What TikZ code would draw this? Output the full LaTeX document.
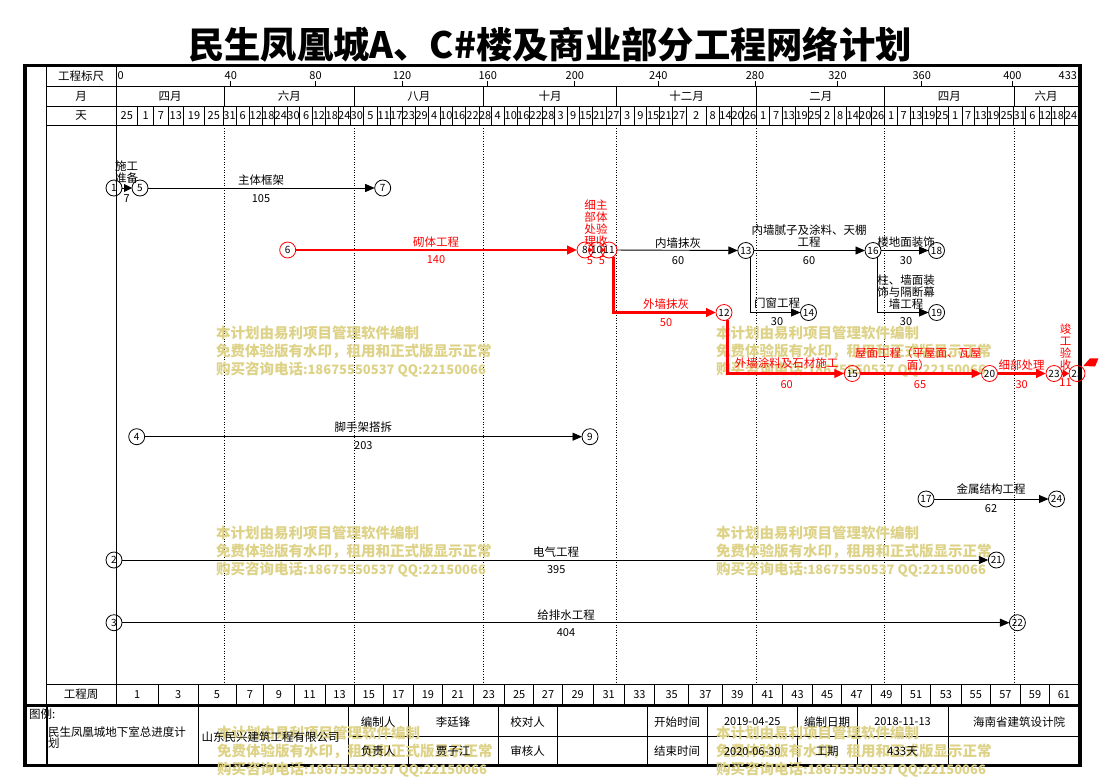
\documentclass[tikz,border=0pt]{standalone}
\usepackage{fontspec}
\setmainfont{Noto Sans CJK SC}
\usetikzlibrary{arrows.meta,calc}
\definecolor{wm}{RGB}{221,210,135}
\definecolor{crit}{RGB}{255,0,0}
\begin{document}
\begin{tikzpicture}[x=1pt,y=-1pt,
  every node/.style={inner sep=0pt,outer sep=0pt},
  lbl/.style={font=\fontsize{11.5}{12}\selectfont,align=center},
  num/.style={font=\fontsize{11}{12}\selectfont},
  tbl/.style={font=\fontsize{11.5}{12}\selectfont},
  gridline/.style={line width=0.8pt},
  monthline/.style={line width=0.8pt,dash pattern=on 1pt off 1.6pt},
  evt/.style={circle,draw,line width=0.8pt,minimum size=16pt,font=\fontsize{10}{10}\selectfont},
  cevt/.style={evt,draw=crit},
  act/.style={line width=0.9pt,-{Triangle[length=9.5pt,width=8pt]}},
  cact/.style={line width=2.6pt,draw=crit,-{Triangle[length=10pt,width=8.5pt]}},
  smallcact/.style={line width=1.4pt,draw=crit,-{Triangle[length=4pt,width=5pt]}},
  wmtext/.style={font=\fontsize{14.5}{18}\selectfont\bfseries,text=wm,anchor=west,align=left},
  redtxt/.style={text=crit},
]
\useasboundingbox (0,0) rectangle (1101,777);

% ---------- title ----------
\node[font=\fontsize{36.3}{37}\selectfont\bfseries] (title) at (550,45) {民生凤凰城A、C\#楼及商业部分工程网络计划};

% ---------- frame and header grid ----------
\draw[gridline] (46,86.7) -- (1078,86.7);
\draw[gridline] (46,106) -- (1078,106);
\draw[gridline] (46,125.3) -- (1078,125.3);
\draw[gridline] (46,684) -- (1078,684);
\draw[gridline] (46,67.3) -- (46,705);
\draw[gridline] (116,67.3) -- (116,705);

\node[lbl] (h1) at (81,76) {工程标尺};
\node[lbl] (h2) at (81,96.3) {月};
\node[lbl] (h3) at (81,115.7) {天};
\node[lbl] (h4) at (81,694) {工程周};

% scale row
\node[num,anchor=west] (s0) at (117.5,76) {0};
\node[num,anchor=east] (s433) at (1077,76) {433};
\foreach \x/\t in {230.8/40,315.6/80,402.1/120,487.7/160,574.8/200,658.3/240,755/280,837.5/320,921.7/360,1012.4/400}{
  \draw[gridline] (\x,81.2) -- (\x,86.7);
  \node[num] (s\t) at (\x,76) {\t};
}

% month row and dotted month lines
\foreach \x in {224.5,354.3,483.5,616.5,756.8,884.8,1014}{
  \draw[gridline] (\x,86.7) -- (\x,106);
  \draw[monthline] (\x,125.3) -- (\x,684);
}
\foreach \x/\t in {170/四月,289.4/六月,418.9/八月,550/十月,686.7/十二月,820.8/二月,949.4/四月,1046/六月}{
  \node[lbl] at (\x,96.3) {\t};
}

% day row
\foreach \a/\b/\t in {116/137.7/25,137.7/153.8/1,153.8/168.2/7,168.2/183.5/13,183.5/204.7/19,204.7/222.9/25,
  222.9/236.1/31,236.1/249.4/6,249.4/262.3/12,262.3/274.4/18,274.4/287.3/24,287.3/299.8/30,299.8/312.3/6,312.3/325.6/12,325.6/338.1/18,338.1/350.6/24,
  350.6/363.1/30,363.1/377.5/5,377.5/390/11,390/402.5/17,402.5/415/23,415/428.3/29,428.3/440/4,440/452.6/10,452.6/465.8/16,465.8/479.4/22,
  479.4/490.9/28,490.9/504.5/4,504.5/517/10,517/529.5/16,529.5/542/22,542/554.6/28,554.6/566.9/3,566.9/579.4/9,579.4/592/15,592/606.3/21,606.3/620.6/27,
  620.6/633.9/3,633.9/646.8/9,646.8/659.4/15,659.4/671.9/21,671.9/686.2/27,686.2/706/2,706/719.2/8,719.2/731.8/14,731.8/743.6/20,743.6/756.8/26,
  756.8/769.4/1,769.4/782.7/7,782.7/795.2/13,795.2/808.1/19,808.1/820.6/25,820.6/833.9/2,833.9/846.5/8,846.5/859/14,859/871.5/20,871.5/884.8/26,
  884.8/897.3/1,897.3/909.9/7,909.9/922.8/13,922.8/936/19,936/948.6/25,948.6/961.9/1,961.9/974.4/7,974.4/987/13,987/999.5/19,999.5/1013.8/25,
  1013.8/1025.7/31,1025.7/1038.9/6,1038.9/1051.5/12,1051.5/1064/18,1064/1078/24}{
  \draw[gridline] (\b,106) -- (\b,125.3);
  \node[num] at ({(\a+\b)/2},115.7) {\t};
}

% week row
\foreach \a/\b/\t in {116/158.5/1,158.5/197.9/3,197.9/236.1/5,236.1/263.7/7,263.7/294.1/9,294.1/324.9/11,324.9/354.2/13,354.2/383.5/15,
  383.5/413.2/17,413.2/442.6/19,442.6/473/21,473/504.5/23,504.5/533.8/25,533.8/562.2/27,562.2/593/29,593/624.2/31,624.2/654.7/33,
  654.7/688.7/35,688.7/722/37,722/752.5/39,752.5/782.7/41,782.7/812.4/43,812.4/841.8/45,841.8/871.5/47,871.5/901.3/49,901.3/930.7/51,
  930.7/961.1/53,961.1/990.5/55,990.5/1020.3/57,1020.3/1049.7/59,1049.7/1078/61}{
  \draw[gridline] (\b,684) -- (\b,705);
  \node[num] at ({(\a+\b)/2},694.5) {\t};
}

% ---------- bottom table ----------
\draw[gridline] (348,736) -- (1078,736);
\foreach \x in {198,348,408,498,557,647.5,707.7,797,857.6,948}{
  \draw[gridline] (\x,705.5) -- (\x,765.7);
}
\draw[line width=2.5pt] (47,705.5) -- (47,765.7);
\draw[line width=2.8pt] (25,705.4) -- (1080,705.4);
\draw[line width=3.5pt] (25,65.7) rectangle (1080,765.7);

% ---------- watermarks ----------
\foreach \wx/\wy in {216/352,716/352,216/551.5,716/551.5,217/751.5,716/751.5}{
  \node[wmtext] at (\wx,\wy) {本计划由易利项目管理软件编制\\免费体验版有水印，租用和正式版显示正常\\购买咨询电话{\fontsize{13}{18}\selectfont :18675550537 QQ:22150066}};
}

% table texts
\node[tbl,anchor=west] (t0) at (29,714) {图例:};
\node[tbl,anchor=west] (t1) at (48,731.7) {民生凤凰城地下室总进度计};
\node[tbl,anchor=west] (t2) at (48,742.9) {划};
\node[tbl,anchor=west] (t3) at (201.5,737.3) {山东民兴建筑工程有限公司};
\node[tbl] (t4) at (378,721.7) {编制人};
\node[tbl] (t5) at (378,751.5) {负责人};
\node[tbl] (t6) at (453,721.7) {李廷锋};
\node[tbl] (t7) at (453,751.5) {贾子江};
\node[tbl] (t8) at (527.5,721.7) {校对人};
\node[tbl] (t9) at (527.5,751.5) {审核人};
\node[tbl] (t10) at (677,721.7) {开始时间};
\node[tbl] (t11) at (677,751.5) {结束时间};
\node[num] (t12) at (752.3,721.7) {2019-04-25};
\node[num] (t13) at (752.3,751.5) {2020-06-30};
\node[tbl] (t14) at (827,721.7) {编制日期};
\node[tbl] (t15) at (827,751.5) {工期};
\node[num] (t16) at (902.5,721.7) {2018-11-13};
\node[tbl] (t17) at (902.5,751.5) {433天};
\node[tbl] (t18) at (1019,721.7) {海南省建筑设计院};

% ---------- network nodes ----------
\node[evt] (n1) at (114,188) {1};
\node[evt] (n5) at (140,188) {5};
\node[evt] (n7) at (382.7,188) {7};
\node[cevt] (n6) at (287.7,250) {6};
\node[cevt] (n8) at (585,250) {8};
\node[cevt] (n10) at (596.7,250) {10};
\node[cevt] (n11) at (609,250) {11};
\node[evt] (n13) at (745.8,250.5) {13};
\node[evt] (n16) at (873,250.5) {16};
\node[evt] (n18) at (936.5,250.5) {18};
\node[cevt] (n12) at (724,312.5) {12};
\node[evt] (n14) at (808.5,312.5) {14};
\node[evt] (n19) at (936.6,312.5) {19};
\node[cevt] (n15) at (852.3,373.5) {15};
\node[cevt] (n20) at (989.5,373.5) {20};
\node[cevt] (n23) at (1054,373.5) {23};
\node[cevt] (n25) at (1077,373.5) {25};
\node[evt] (n4) at (136.7,436.7) {4};
\node[evt] (n9) at (590,436.7) {9};
\node[evt] (n17) at (926,499) {17};
\node[evt] (n24) at (1056.5,499) {24};
\node[evt] (n2) at (114,560) {2};
\node[evt] (n21) at (996.3,560) {21};
\node[evt] (n3) at (114,622.7) {3};
\node[evt] (n22) at (1017.4,622.7) {22};

% ---------- activities ----------
\draw[line width=0.9pt,-{Triangle[length=8pt,width=8pt]}] (n1) -- (n5);
\draw[act] (n5) -- (n7);
\draw[cact] (n6) -- (n8);
\draw[smallcact] ($(n8.center)+(3,0)$) -- ($(n10.center)+(-4,0)$);
\draw[smallcact] ($(n10.center)+(4.5,0)$) -- ($(n11.center)+(-4,0)$);
\draw[act] (n11) -- (n13);
\draw[act] (n13) -- (n16);
\draw[act] (n16) -- (n18);
\draw[act] (n13.-50) |- (n14);
\draw[act] (n16.-53) |- (n19);
\draw[cact] (n11.-58) |- (n12);
\draw[cact] (n12.-63) |- (n15);
\draw[cact] (n15) -- (n20);
\draw[cact] (n20) -- (n23);
\draw[line width=2.6pt,draw=crit,-{Triangle[length=6.5pt,width=8pt]}] (n23) -- (n25);
\draw[act] (n4) -- (n9);
\draw[act] (n17) -- (n24);
\draw[act] (n2) -- (n21);
\draw[act] (n3) -- (n22);
\fill[crit] (1083.3,366) -- (1090,358.3) -- (1098.5,358.3) -- (1095,366.5) -- cycle;

% ---------- activity labels ----------
\node[lbl] (a1) at (126.7,172.5) {施工\\准备};
\node[num] (d1) at (126.7,198.3) {7};
\node[lbl] (a2) at (261,180) {主体框架};
\node[num] (d2) at (261,198.3) {105};
\node[lbl,redtxt] (a3) at (436,241.7) {砌体工程};
\node[num,redtxt] (d3) at (436,260) {140};
\node[lbl,redtxt] (a4) at (590,223) {细\\部\\处\\理};
\node[num,redtxt] (d4) at (590,260.7) {5};
\node[lbl,redtxt] (a5) at (601.8,223) {主\\体\\验\\收};
\node[num,redtxt] (d5) at (601.8,260.7) {5};
\node[lbl] (a6) at (678,242.7) {内墙抹灰};
\node[num] (d6) at (678,260.3) {60};
\node[lbl] (a7) at (809,236.4) {内墙腻子及涂料、天棚\\工程};
\node[num] (d7) at (809,260.3) {60};
\node[lbl] (a8) at (906,241.7) {楼地面装饰};
\node[num] (d8) at (906,260.3) {30};
\node[lbl,redtxt] (a9) at (666,304) {外墙抹灰};
\node[num,redtxt] (d9) at (666,322.3) {50};
\node[lbl] (a10) at (777,303.3) {门窗工程};
\node[num] (d10) at (777,322) {30};
\node[lbl] (a11) at (906,292.2) {柱、墙面装\\饰与隔断幕\\墙工程};
\node[num] (d11) at (906,322) {30};
\node[lbl,redtxt] (a12) at (786.7,363.3) {外墙涂料及石材施工};
\node[num,redtxt] (d12) at (786.7,384.3) {60};
\node[lbl,redtxt] (a13) at (918.3,359.2) {屋面工程（平屋面、瓦屋\\面）};
\node[num,redtxt] (d13) at (920,384.3) {65};
\node[lbl,redtxt] (a14) at (1021.7,365) {细部处理};
\node[num,redtxt] (d14) at (1021.7,384.3) {30};
\node[lbl,redtxt] (a15) at (1065.7,347.2) {竣\\工\\验\\收};
\node[num,redtxt] (d15) at (1065.5,382.7) {11};
\node[lbl] (a16) at (363.3,427.3) {脚手架搭拆};
\node[num] (d16) at (363.3,446) {203};
\node[lbl] (a17) at (991,489.3) {金属结构工程};
\node[num] (d17) at (991,508.3) {62};
\node[lbl] (a18) at (556.2,551.7) {电气工程};
\node[num] (d18) at (556.2,570) {395};
\node[lbl] (a19) at (566,615) {给排水工程};
\node[num] (d19) at (566,632.3) {404};
\end{tikzpicture}
\end{document}
